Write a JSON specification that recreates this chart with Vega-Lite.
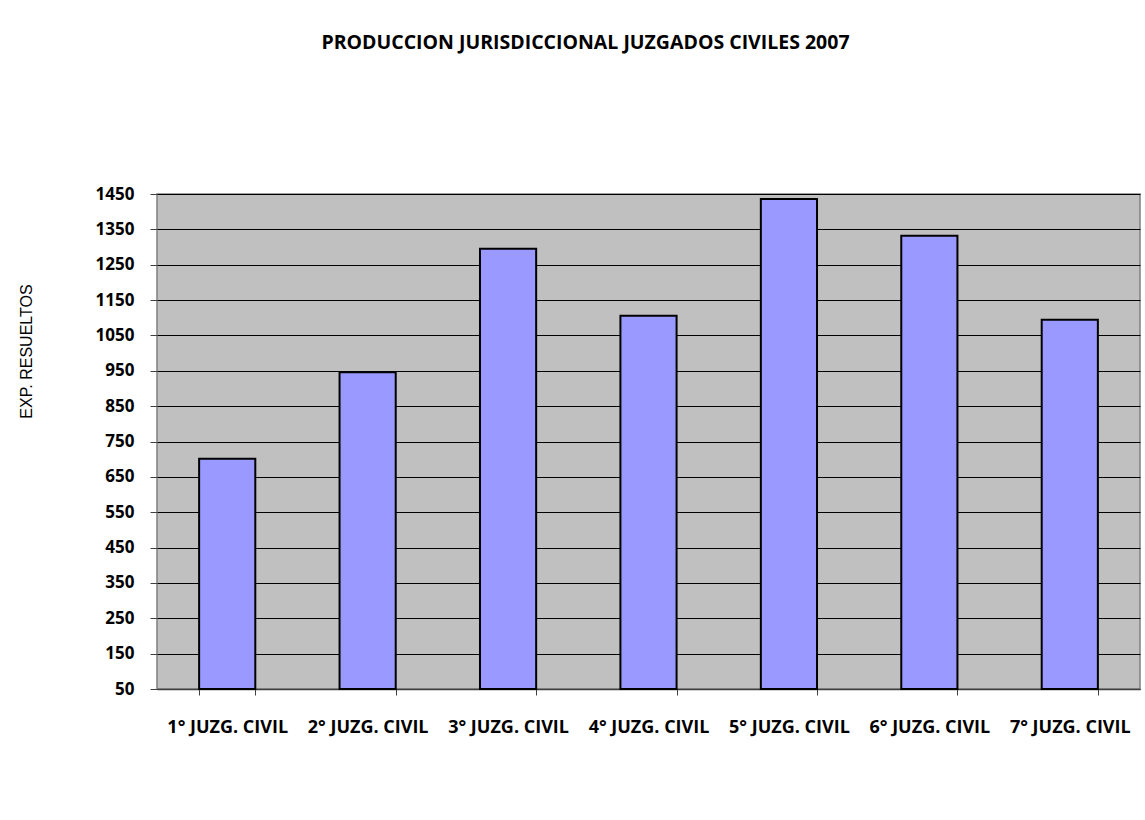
{
  "$schema": "https://vega.github.io/schema/vega-lite/v6.json",
  "autosize": "none",
  "width": 983,
  "height": 495,
  "padding": {"left": 157, "top": 194, "right": 5, "bottom": 131},
  "background": "white",
  "title": {
    "text": "PRODUCCION JURISDICCIONAL JUZGADOS CIVILES 2007",
    "font": "Open Sans",
    "fontSize": 19.5,
    "fontWeight": "bold",
    "color": "#000000",
    "anchor": "middle",
    "dx": -63,
    "offset": 132
  },
  "config": {
    "view": {"fill": "#C0C0C0", "stroke": "#808080", "strokeWidth": 1.5},
    "axis": {
      "labelFont": "Open Sans",
      "labelFontWeight": "bold",
      "labelColor": "#000000",
      "tickColor": "#404040",
      "domainColor": "#404040"
    }
  },
  "data": {
    "values": [
      {"juzgado": "1° JUZG. CIVIL", "expedientes": 701},
      {"juzgado": "2° JUZG. CIVIL", "expedientes": 946},
      {"juzgado": "3° JUZG. CIVIL", "expedientes": 1295},
      {"juzgado": "4° JUZG. CIVIL", "expedientes": 1106},
      {"juzgado": "5° JUZG. CIVIL", "expedientes": 1436},
      {"juzgado": "6° JUZG. CIVIL", "expedientes": 1332},
      {"juzgado": "7° JUZG. CIVIL", "expedientes": 1094}
    ]
  },
  "mark": {"type": "bar", "fill": "#9999FF", "stroke": "#000000", "strokeWidth": 2},
  "encoding": {
    "x": {
      "field": "juzgado",
      "type": "nominal",
      "sort": null,
      "scale": {"paddingInner": 0.6, "paddingOuter": 0.3},
      "axis": {
        "title": null,
        "labelAngle": 0,
        "labelFontSize": 18,
        "labelPadding": 23,
        "tickSize": 6,
        "tickBand": "extent",
        "domainWidth": 1.5,
        "grid": false
      }
    },
    "y": {
      "field": "expedientes",
      "type": "quantitative",
      "scale": {"domain": [50, 1450], "zero": false, "nice": false},
      "axis": {
        "title": "EXP. RESUELTOS",
        "titleFont": "Liberation Sans",
        "titleFontWeight": "normal",
        "titleFontSize": 16,
        "titleColor": "#000000",
        "titleAngle": 270,
        "titleAlign": "center",
        "titleBaseline": "middle",
        "titleX": -131,
        "titleY": 157,
        "values": [50, 150, 250, 350, 450, 550, 650, 750, 850, 950, 1050, 1150, 1250, 1350, 1450],
        "format": "d",
        "labelFontSize": 17,
        "labelPadding": 16,
        "tickSize": 7,
        "domain": false,
        "grid": true,
        "gridColor": "#000000",
        "gridWidth": 1,
        "gridOpacity": 1
      }
    },
    "y2": {"datum": 50}
  }
}
